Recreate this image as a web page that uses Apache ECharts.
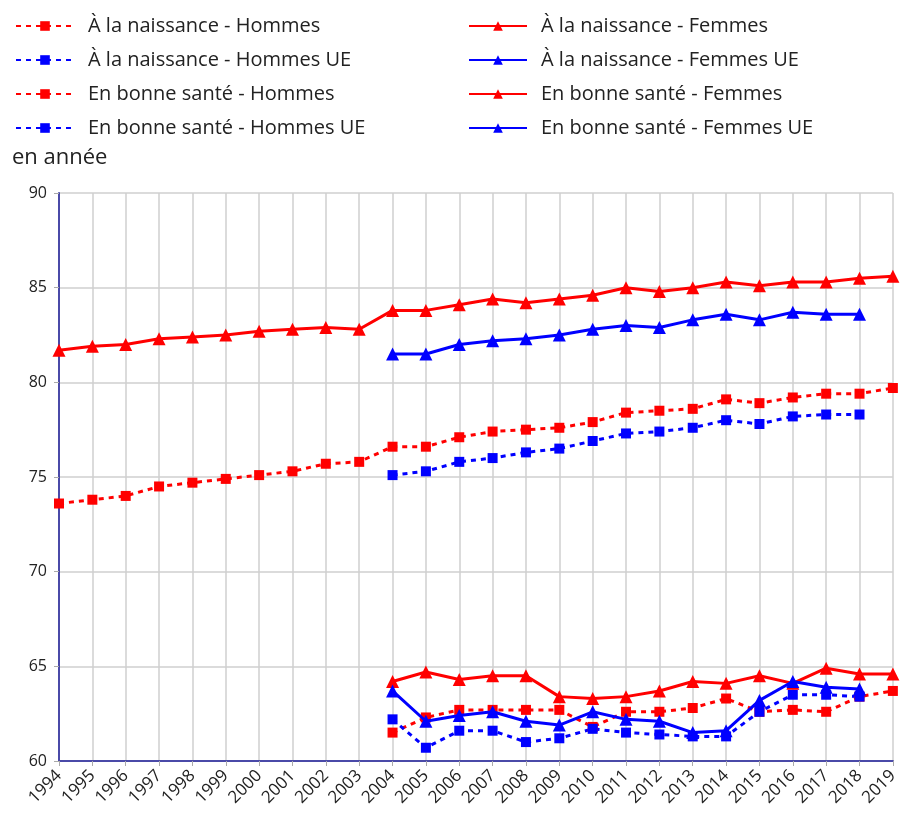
<!DOCTYPE html>
<html>
<head>
<meta charset="utf-8">
<script src="https://cdn.jsdelivr.net/npm/echarts@6/dist/echarts.min.js"></script>
<style>
  html, body { margin: 0; padding: 0; background: #fff; }
  #main { width: 901px; height: 814px; }
</style>
</head>
<body>
<div id="main"></div>
<script>
// années
const years = ["1994", "1995", "1996", "1997", "1998", "1999", "2000", "2001", "2002", "2003",
  "2004", "2005", "2006", "2007", "2008", "2009", "2010", "2011", "2012", "2013",
  "2014", "2015", "2016", "2017", "2018", "2019"];

// espérance de vie à la naissance
const naissanceHommes = [73.6, 73.8, 74.0, 74.5, 74.7, 74.9, 75.1, 75.3, 75.7, 75.8,
  76.6, 76.6, 77.1, 77.4, 77.5, 77.6, 77.9, 78.4, 78.5, 78.6, 79.1, 78.9, 79.2, 79.4, 79.4, 79.7];
const naissanceFemmes = [81.7, 81.9, 82.0, 82.3, 82.4, 82.5, 82.7, 82.8, 82.9, 82.8,
  83.8, 83.8, 84.1, 84.4, 84.2, 84.4, 84.6, 85.0, 84.8, 85.0, 85.3, 85.1, 85.3, 85.3, 85.5, 85.6];
const naissanceHommesUE = [null, null, null, null, null, null, null, null, null, null,
  75.1, 75.3, 75.8, 76.0, 76.3, 76.5, 76.9, 77.3, 77.4, 77.6, 78.0, 77.8, 78.2, 78.3, 78.3, null];
const naissanceFemmesUE = [null, null, null, null, null, null, null, null, null, null,
  81.5, 81.5, 82.0, 82.2, 82.3, 82.5, 82.8, 83.0, 82.9, 83.3, 83.6, 83.3, 83.7, 83.6, 83.6, null];

// espérance de vie en bonne santé
const santeHommes = [null, null, null, null, null, null, null, null, null, null,
  61.5, 62.3, 62.7, 62.7, 62.7, 62.7, 61.8, 62.6, 62.6, 62.8, 63.3, 62.6, 62.7, 62.6, 63.4, 63.7];
const santeFemmes = [null, null, null, null, null, null, null, null, null, null,
  64.2, 64.7, 64.3, 64.5, 64.5, 63.4, 63.3, 63.4, 63.7, 64.2, 64.1, 64.5, 64.1, 64.9, 64.6, 64.6];
const santeHommesUE = [null, null, null, null, null, null, null, null, null, null,
  62.2, 60.7, 61.6, 61.6, 61.0, 61.2, 61.7, 61.5, 61.4, 61.3, 61.3, 62.6, 63.5, 63.5, 63.4, null];
const santeFemmesUE = [null, null, null, null, null, null, null, null, null, null,
  63.7, 62.1, 62.4, 62.6, 62.1, 61.9, 62.6, 62.2, 62.1, 61.5, 61.6, 63.2, 64.2, 63.9, 63.8, null];

const RED = "#ff0000";
const BLUE = "#0000ff";

function hommes(name, data, color) {
  return {
    name: name,
    type: "line",
    data: data,
    symbol: "rect",
    symbolSize: 10,
    color: color,
    lineStyle: { width: 3, type: [5, 5] },
    itemStyle: { color: color },
    z: 2,
  };
}

function femmes(name, data, color) {
  return {
    name: name,
    type: "line",
    data: data,
    symbol: "triangle",
    symbolSize: 13,
    color: color,
    lineStyle: { width: 3 },
    itemStyle: { color: color },
    z: 3,
  };
}

const legendText = {
  fontSize: 20, lineHeight: 20, color: "#222", fontFamily: "Open Sans",
  padding: [0, 0, 0, 9],
};

const chart = echarts.init(document.getElementById("main"));
chart.setOption({
  animation: false,
  textStyle: { fontFamily: "Open Sans" },
  title: {
    text: "en année",
    left: 7,
    top: 142,
    textStyle: { fontSize: 22, fontWeight: "normal", color: "#222", fontFamily: "Open Sans" },
  },
  legend: [
    {
      orient: "vertical",
      left: 10,
      top: 11,
      itemWidth: 58,
      itemHeight: 12,
      itemGap: 14,
      textStyle: legendText,
      data: ["À la naissance - Hommes", "À la naissance - Hommes UE",
        "En bonne santé - Hommes", "En bonne santé - Hommes UE"],
    },
    {
      orient: "vertical",
      left: 463,
      top: 11,
      itemWidth: 58,
      itemHeight: 12,
      itemGap: 14,
      textStyle: legendText,
      data: ["À la naissance - Femmes", "À la naissance - Femmes UE",
        "En bonne santé - Femmes", "En bonne santé - Femmes UE"],
    },
  ],
  grid: { left: 59, right: 5, top: 193, bottom: 53 },
  xAxis: {
    type: "category",
    data: years,
    boundaryGap: false,
    axisLine: { lineStyle: { color: "#4a4aa8", width: 2 } },
    axisTick: { show: true, lineStyle: { color: "#aaa" } },
    axisLabel: { rotate: 45, fontSize: 17, color: "#222", margin: 12, interval: 0 },
    splitLine: { show: true, lineStyle: { color: "#cfcfcf", width: 1.5 } },
  },
  yAxis: {
    type: "value",
    min: 60,
    max: 90,
    interval: 5,
    axisLine: { show: true, lineStyle: { color: "#4a4aa8", width: 2 } },
    axisTick: { show: true, lineStyle: { color: "#aaa" } },
    axisLabel: { fontSize: 16, color: "#222", margin: 12 },
    splitLine: { show: true, lineStyle: { color: "#cfcfcf", width: 1.5 } },
  },
  series: [
    hommes("À la naissance - Hommes", naissanceHommes, RED),
    hommes("À la naissance - Hommes UE", naissanceHommesUE, BLUE),
    hommes("En bonne santé - Hommes", santeHommes, RED),
    hommes("En bonne santé - Hommes UE", santeHommesUE, BLUE),
    femmes("À la naissance - Femmes", naissanceFemmes, RED),
    femmes("À la naissance - Femmes UE", naissanceFemmesUE, BLUE),
    femmes("En bonne santé - Femmes", santeFemmes, RED),
    femmes("En bonne santé - Femmes UE", santeFemmesUE, BLUE),
  ],
});
</script>
</body>
</html>
